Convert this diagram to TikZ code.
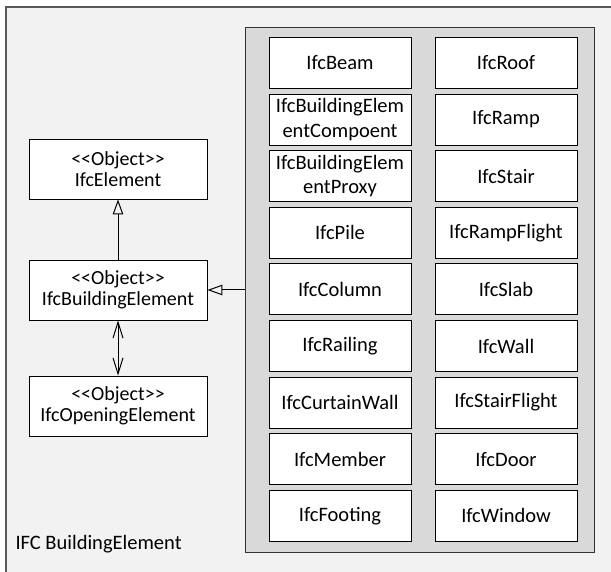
\documentclass[tikz,border=0pt]{standalone}
\usepackage{fontspec}
\setmainfont{Carlito}
\usetikzlibrary{arrows.meta}
\definecolor{bgc}{HTML}{F2F2F2}
\definecolor{contc}{HTML}{D9D9D9}
\definecolor{framec}{HTML}{595959}
\begin{document}
\begin{tikzpicture}[x=1pt,y=-1pt,
  elbox/.style={draw=black, line width=0.9pt, fill=white, minimum width=142pt, minimum height=51pt, inner sep=0pt, align=center, font=\fontsize{20.5}{24.6}\selectfont},
  objbox/.style={draw=black, line width=0.9pt, fill=white, minimum width=178pt, minimum height=60pt, inner sep=0pt, align=center, font=\fontsize{20}{21}\selectfont},
  conn/.style={draw=black, line width=1pt}]
\useasboundingbox (0,0) rectangle (611,572);
\fill[white] (0,0) rectangle (611,572);
\fill[bgc] (6,7) rectangle (630,590);
\draw[framec, line width=1.6pt] (6,590) -- (6,7) -- (630,7);
\node[anchor=west, font=\fontsize{20.5}{24}\selectfont] (title) at (12,544) {IFC BuildingElement};
\node[draw=black!80, line width=1pt, fill=contc, minimum width=349pt, minimum height=524pt, inner sep=0pt] (cont) at (419.5,290) {};
\foreach \n/\t [count=\i from 0] in {a1/IfcBeam, a2/{IfcBuildingElem\\entCompoent}, a3/{IfcBuildingElem\\entProxy}, a4/IfcPile, a5/IfcColumn, a6/IfcRailing, a7/IfcCurtainWall, a8/IfcMember, a9/IfcFooting}
  \node[elbox] (\n) at (340,63+56.6*\i) {\t};
\foreach \n/\t [count=\i from 0] in {b1/IfcRoof, b2/IfcRamp, b3/IfcStair, b4/IfcRampFlight, b5/IfcSlab, b6/IfcWall, b7/IfcStairFlight, b8/IfcDoor, b9/IfcWindow}
  \node[elbox] (\n) at (506,63+56.6*\i) {\t};
\node[objbox] (elem) at (118,169) {<{}<Object>{}>\\IfcElement};
\node[objbox] (bld) at (118,290) {<{}<Object>{}>\\IfcBuildingElement};
\node[objbox] (open) at (118,406) {<{}<Object>{}>\\IfcOpeningElement};
\draw[conn, -{Triangle[open, length=15pt, width=10.5pt]}] (bld.north) -- (elem.south);
\draw[conn, -{Triangle[open, length=15pt, width=10.5pt]}] (cont.west |- bld.east) -- (bld.east);
\draw[conn, {Straight Barb[length=16pt, width=10pt]}-{Straight Barb[length=16pt, width=10pt]}] (bld.south) -- (open.north);
\end{tikzpicture}
\end{document}
